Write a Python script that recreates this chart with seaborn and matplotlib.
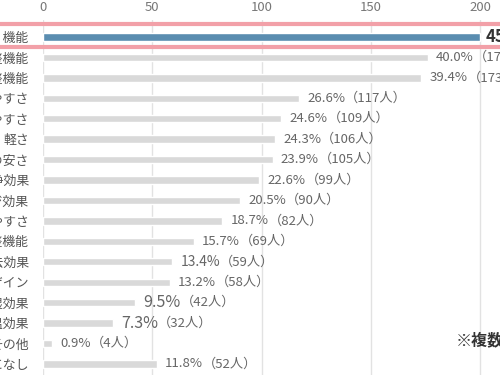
import matplotlib
matplotlib.use("Agg")
import matplotlib.pyplot as plt
import seaborn as sns
import pandas as pd

# ---- data ----
labels = ["早く乾く機能", "温度調整機能", "風量調整機能", "使いやすさ", "持ちやすさ", "軽さ",
          "価格の安さ", "空気清浄効果", "マッサージ効果", "お手入れのしやすさ", "タイマー調整機能",
          "静電気除去効果", "デザイン", "保湿効果", "保温効果", "その他", "特になし"]
counts = [200, 176, 173, 117, 109, 106, 105, 99, 90, 82, 69, 59, 58, 42, 32, 4, 52]
pcts = [45.5, 40.0, 39.4, 26.6, 24.6, 24.3, 23.9, 22.6, 20.5, 18.7, 15.7, 13.4, 13.2, 9.5, 7.3, 0.9, 11.8]
xticks = [0, 50, 100, 150, 200]
note = "※複数回答"

sns.set_theme(style="white")
plt.rcParams['font.family'] = ['Noto Sans CJK JP', 'DejaVu Sans']

df = pd.DataFrame({"label": labels, "count": counts})
colors = ["#5a8db0"] + ["#d9d9d9"] * (len(labels) - 1)

fig = plt.figure(figsize=(5, 3.85), dpi=100)
ax = fig.add_axes([43 / 500, 10 / 385, 0.918, 355 / 385])

sns.barplot(data=df, y="label", x="count", hue="label", palette=colors,
            legend=False, width=0.36, ax=ax, orient="h", saturation=1)

ax.set_xlim(0, 210)
ax.set_ylim(16.54, -0.83)
ax.set_xticks(xticks)
ax.set_xticklabels([str(t) for t in xticks])
ax.xaxis.tick_top()
ax.tick_params(axis="x", length=0, pad=4, labelsize=9.5, labelcolor="#777777")
ax.tick_params(axis="y", length=0, pad=10, labelsize=9.3, labelcolor="#555555")
ax.set_xlabel("")
ax.set_ylabel("")
for s in ax.spines.values():
    s.set_visible(False)
ax.grid(False)
for t in xticks:
    ax.axvline(t, color="#e2e2e2", lw=1, zorder=0)

# highlight lines around first row
for yy in (-0.63, 0.49):
    ax.axhline(yy, xmin=-0.2, xmax=1.2, clip_on=False, color="#f2a0a8", lw=3, zorder=3)

base = 9.5
big = {13: 1.22, 14: 1.22, 11: 1.05}
for i, (c, p) in enumerate(zip(counts, pcts)):
    if i == 0:
        ax.annotate(f"{p:.1f}%（{c}人）", xy=(c, i), xytext=(4, 0), textcoords="offset points",
                    va="center", ha="left", fontsize=12, fontweight="bold", color="#333333")
        continue
    fs = base * big.get(i, 1.0)
    t1 = ax.annotate(f"{p:.1f}%", xy=(c, i), xytext=(6, 0), textcoords="offset points",
                     va="center", ha="left", fontsize=fs, color="#666666")
    ax.annotate(f"（{c}人）", xy=(1, 0.5), xycoords=t1, va="center", ha="left",
                fontsize=base, color="#666666")

fig.text(456 / 500, 1 - 340 / 385, note, fontsize=11.5, fontweight="bold",
         color="#333333", va="center", ha="left")

fig.savefig("out.png", dpi=100)
